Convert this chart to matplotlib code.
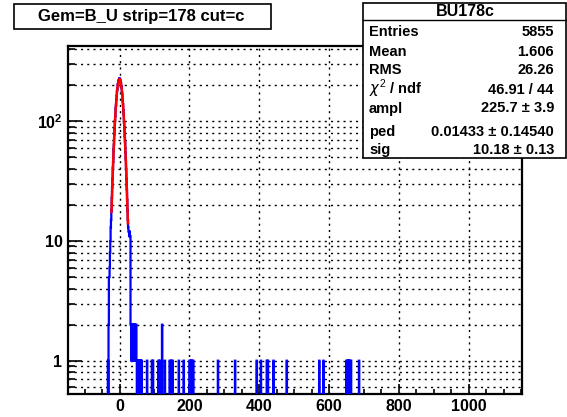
import numpy as np
import matplotlib
matplotlib.use("Agg")
import matplotlib.pyplot as plt
from matplotlib.patches import Rectangle
from matplotlib.lines import Line2D
from matplotlib.ticker import LogLocator, MultipleLocator, FixedLocator, FixedFormatter, NullFormatter

# histogram of ADC values, unit-width bins
hist_lo, hist_hi = -147.5, 1152.5

# counts of the pedestal peak, bins centred on -35 .. 63
peak_start = -35
peak_counts = [
    0, 0, 1, 0, 2, 5, 5, 6, 8, 10,
    13, 15, 18, 23, 28, 33, 41, 46, 57, 64,
    78, 86, 101, 111, 128, 136, 153, 163, 180, 187,
    202, 207, 219, 218, 226, 229, 222, 224, 214, 211,
    197, 192, 176, 167, 149, 139, 124, 115, 98, 89,
    75, 67, 55, 48, 40, 33, 27, 22, 18, 15,
    13, 12, 12, 11, 12, 11, 11, 2, 2, 1,
    2, 2, 2, 1, 2, 2, 2, 1, 2, 2,
    1, 2, 2, 2, 1, 0, 1, 1, 0, 1,
    1, 1, 0, 1, 1, 0, 1, 0, 1,
]

# single hits out in the tail
tail_hits = [79, 93, 96, 112, 115, 122, 122, 130, 144, 148, 152, 170, 184,
             201, 204, 207, 211, 282, 331, 393, 405, 422, 425, 441, 479,
             572, 584, 650, 653, 656, 659, 663, 686]

# gaussian fit results
ampl, ped, sig = 225.7, 0.01433, 10.18
fit_lo, fit_hi = -23.0, 24.0

stat_names = ["Entries", "Mean", "RMS", r"$\chi^{2}$ / ndf", "ampl", "ped", "sig"]
stat_values = ["5855", "1.606", "26.26", "46.91 / 44", "225.7 \u00b1 3.9",
               "0.01433 \u00b1 0.14540", "10.18 \u00b1 0.13"]
stat_baselines = [36.5, 55.5, 74.5, 93.5, 112.5, 136.0, 154.5]

FONT = "Liberation Sans"
W, H = 567, 417


def main():
    plt.rcParams["font.family"] = [FONT, "DejaVu Sans"]
    plt.rcParams["mathtext.fontset"] = "custom"
    plt.rcParams["mathtext.rm"] = FONT
    plt.rcParams["mathtext.bf"] = FONT + ":bold"

    edges = np.arange(hist_lo, hist_hi + 0.5, 1.0)
    counts, _ = np.histogram(tail_hits, bins=edges)
    counts = counts.astype(float)
    i0 = int(peak_start - (hist_lo + 0.5))
    counts[i0:i0 + len(peak_counts)] += np.array(peak_counts, dtype=float)

    fig = plt.figure(figsize=(W / 100, H / 100), dpi=100)
    ax = fig.add_axes([68 / W, 1 - 394 / H, (522 - 68) / W, (394 - 46) / H])

    ax.stairs(np.where(counts > 0, counts, 1e-3), edges, baseline=None,
              color="#0000ff", lw=1.6, zorder=3)

    xf = np.linspace(fit_lo, fit_hi, 200)
    ax.plot(xf, ampl * np.exp(-0.5 * ((xf - ped) / sig) ** 2),
            color="#ff0000", lw=1.8, zorder=4)

    ax.set_yscale("log")
    ax.set_xlim(hist_lo, hist_hi)
    ax.set_ylim(0.527, 426)

    ax.xaxis.set_major_locator(MultipleLocator(200))
    ax.xaxis.set_minor_locator(MultipleLocator(50))
    ax.yaxis.set_major_locator(FixedLocator([1, 10, 100]))
    ax.yaxis.set_major_formatter(FixedFormatter(["1", "10", r"10$^{\mathbf{2}}$"]))
    ax.yaxis.set_minor_locator(LogLocator(base=10, subs=np.arange(2, 10), numticks=20))
    ax.yaxis.set_minor_formatter(NullFormatter())

    dots = (0, (1.5, 3))
    ax.grid(True, which="major", axis="x", color="black", lw=1.0, linestyle=dots)
    ax.grid(True, which="both", axis="y", color="black", lw=1.0, linestyle=dots)
    ax.set_axisbelow(True)

    ax.tick_params(axis="x", which="major", direction="in", length=7.5, width=1.2,
                   pad=3.5, labelsize=11.5)
    ax.tick_params(axis="x", which="minor", direction="in", length=3.7, width=1.2)
    ax.tick_params(axis="y", which="major", direction="in", length=9.8, width=1.2,
                   pad=4, labelsize=11.5)
    ax.tick_params(axis="y", which="minor", direction="in", length=4.9, width=1.2)
    for lab in ax.get_xticklabels() + ax.get_yticklabels():
        lab.set_fontweight("bold")
    for sp in ax.spines.values():
        sp.set_linewidth(1.6)

    # title box
    fig.patches.append(Rectangle((14 / W, 1 - 29 / H), (271 - 14) / W, (29 - 4) / H,
                                 transform=fig.transFigure, facecolor="white",
                                 edgecolor="black", lw=1.2, zorder=5))
    fig.text(141 / W, 1 - 16.5 / H, "Gem=B_U strip=178 cut=c", ha="center", va="center",
             fontsize=12, fontweight="bold", zorder=6)

    # statistics box
    fig.patches.append(Rectangle((363 / W, 1 - 158 / H), (566 - 363) / W, (158 - 3) / H,
                                 transform=fig.transFigure, facecolor="white",
                                 edgecolor="black", lw=1.2, zorder=5))
    fig.lines.append(Line2D([363 / W, 566 / W], [1 - 20 / H, 1 - 20 / H],
                            transform=fig.transFigure, color="black", lw=1.0, zorder=6))
    fig.text(465 / W, 1 - 11.5 / H, "BU178c", ha="center", va="center",
             fontsize=11.5, fontweight="bold", zorder=6)
    for name, val, yb in zip(stat_names, stat_values, stat_baselines):
        fig.text(369 / W, 1 - yb / H, name, ha="left", va="baseline",
                 fontsize=10.5, fontweight="bold", zorder=6)
        fig.text(554 / W, 1 - yb / H, val, ha="right", va="baseline",
                 fontsize=10.5, fontweight="bold", zorder=6)

    fig.savefig("out.png", dpi=100)


if __name__ == '__main__':
    main()
